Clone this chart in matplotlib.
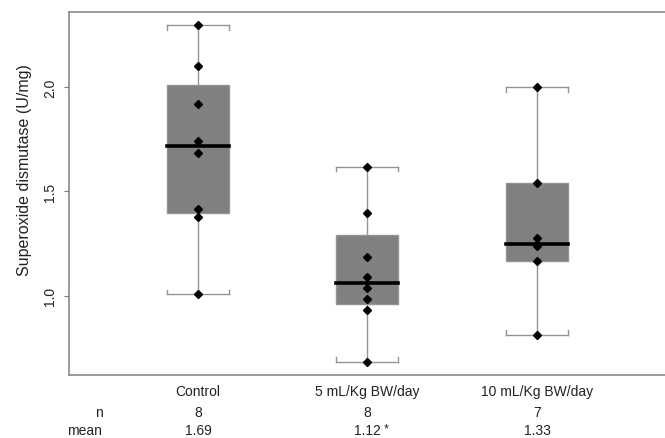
import matplotlib
matplotlib.use("Agg")
import matplotlib.pyplot as plt
import matplotlib.transforms as mtransforms

plt.rcParams["font.family"] = ["Liberation Sans", "DejaVu Sans"]

groups = ["Control", "5 mL/Kg BW/day", "10 mL/Kg BW/day"]
n_values = [8, 8, 7]
mean_labels = ["1.69", "1.12", "1.33"]
sig_marks = ["", "*", ""]

control = [2.295, 2.10, 1.92, 1.742, 1.686, 1.417, 1.375, 1.007]
dose_5 = [1.619, 1.396, 1.186, 1.088, 1.035, 0.984, 0.933, 0.682]
dose_10 = [2.00, 1.54, 1.278, 1.25, 1.24, 1.166, 0.813]
points = [control, dose_5, dose_10]

# box statistics (hinges / median / whisker ends)
medians = [1.716, 1.06, 1.25]
q1s = [1.396, 0.96, 1.166]
q3s = [2.01, 1.29, 1.54]
whis_lo = [1.007, 0.682, 0.813]
whis_hi = [2.295, 1.619, 2.00]

stats = []
for i, g in enumerate(groups):
    stats.append({"label": g, "med": medians[i], "q1": q1s[i], "q3": q3s[i],
                  "whislo": whis_lo[i], "whishi": whis_hi[i], "fliers": []})

positions = [1, 2, 3]
box_w = 0.366
edge = "#949494"

fig = plt.figure(figsize=(6.65, 4.39), dpi=100)
ax = fig.add_axes([0.1033, 0.144, 0.9167, 0.8257])

ax.bxp(stats, positions=positions, widths=box_w, capwidths=box_w,
       patch_artist=True, showfliers=False,
       boxprops=dict(facecolor="#808080", edgecolor=edge, linewidth=1.0),
       whiskerprops=dict(color=edge, linewidth=1.0),
       capprops=dict(color=edge, linewidth=1.0),
       medianprops=dict(color="black", linewidth=2.6, solid_capstyle="projecting"))

# little bracket ends on the staples
tick_h = 0.022
for p, lo, hi in zip(positions, whis_lo, whis_hi):
    for x in (p - box_w / 2, p + box_w / 2):
        ax.plot([x, x], [hi, hi - tick_h], color=edge, lw=1.0)
        ax.plot([x, x], [lo, lo + tick_h], color=edge, lw=1.0)

for p, vals in zip(positions, points):
    ax.plot([p] * len(vals), vals, linestyle="none", marker="D",
            markersize=4.0, color="black", zorder=5)

ax.set_xlim(0.237, 3.834)
ax.set_ylim(0.621, 2.358)
ax.set_yticks([1.0, 1.5, 2.0])
ax.set_yticklabels(["1.0", "1.5", "2.0"], rotation=90, va="center")
ax.set_xticks([])
ax.tick_params(axis="y", direction="out", length=3.5, width=0.8,
               color="#777777", labelsize=10, pad=5, labelcolor="#222222")

for side in ["left", "top", "bottom", "right"]:
    ax.spines[side].set_color("#8a8a8a")
    ax.spines[side].set_linewidth(1.2)

ax.set_ylabel("Superoxide dismutase (U/mg)", fontsize=11.5, color="#222222")
ax.yaxis.set_label_coords(-0.060, 0.568)

# category names and the n / mean table below the plot
trans = mtransforms.blended_transform_factory(ax.transData, fig.transFigure)
for i, p in enumerate(positions):
    ax.text(p, 0.107, groups[i], transform=trans, ha="center", va="center",
            fontsize=10, color="#222222")
    ax.text(p, 0.0592, str(n_values[i]), transform=trans, ha="center",
            va="center", fontsize=10, color="#222222")
    ax.text(p, 0.0171, mean_labels[i], transform=trans, ha="center",
            va="center", fontsize=10, color="#222222")
    if sig_marks[i]:
        ax.text(p + 0.112, 0.0211, sig_marks[i], transform=trans, ha="center",
                va="center", fontsize=9, color="#222222")

fig.text(0.154, 0.0592, "n", ha="right", va="center", fontsize=10, color="#222222")
fig.text(0.154, 0.0171, "mean", ha="right", va="center", fontsize=10, color="#222222")

fig.savefig("out.png", dpi=100)
